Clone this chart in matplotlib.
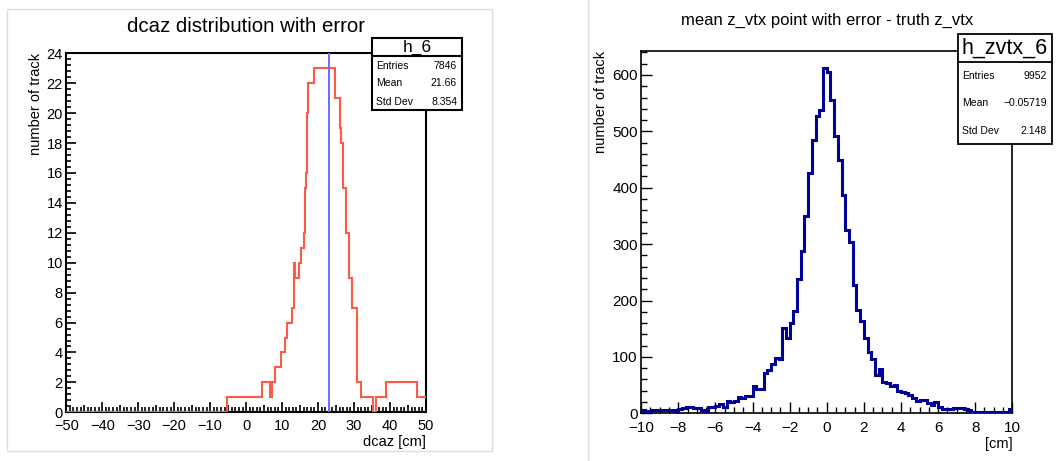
import matplotlib
matplotlib.use("Agg")
import matplotlib.pyplot as plt
import numpy as np
from matplotlib.ticker import MultipleLocator, FuncFormatter
from matplotlib.patches import Rectangle
from matplotlib.lines import Line2D

plt.rcParams['font.family'] = ['Liberation Sans', 'DejaVu Sans']

W, H = 1061, 461

# ---------------- data: left histogram (dcaz) ----------------
dcaz_edges = [-50.0, -5.2, 4.4, 6.6, 7.2, 8.1, 9.8, 10.9, 11.5, 12.7, 13.4, 13.6,
              14.7, 15.3, 16.0, 16.3, 16.6, 16.9, 17.1, 19.0, 24.8, 26.0, 26.4,
              27.0, 27.9, 28.6, 29.5, 30.8, 32.0, 35.4, 36.2, 38.8, 47.4, 50.0]
dcaz_counts = [0, 1, 2, 1, 2, 3, 4, 5, 6, 7, 10, 9, 10, 11, 12, 15, 16, 20, 22,
               23, 21, 19, 18, 15, 12, 9, 7, 2, 1, 0, 1, 2, 1]
dcaz_vline = 23.0
left_title = "dcaz distribution with error"
left_stats_name = "h_6"
left_stats_labels = ["Entries", "Mean", "Std Dev"]
left_stats_values = ["7846", "21.66", "8.354"]

# ---------------- data: right histogram (z_vtx diff) ----------------
zvtx_range = (-10.0, 10.0)
zvtx_nbins = 100
zvtx_counts = [5, 4, 4, 5, 5, 5, 5, 5, 5, 4,
               8, 9, 11, 12, 10, 9, 6, 3, 11, 11,
               13, 17, 11, 21, 20, 21, 29, 28, 31, 31,
               49, 43, 43, 71, 76, 88, 98, 97, 152, 134,
               160, 182, 238, 288, 349, 427, 484, 528, 537, 612,
               606, 556, 491, 449, 387, 325, 303, 227, 183, 164,
               133, 108, 97, 68, 78, 55, 53, 49, 50, 40,
               38, 36, 32, 27, 22, 23, 24, 18, 15, 20,
               11, 8, 8, 8, 10, 10, 9, 7, 5, 3,
               2, 3, 2, 2, 2, 2, 2, 2, 2, 7]
right_title = "mean z_vtx point with error - truth z_vtx"
right_stats_name = "h_zvtx_6"
right_stats_labels = ["Entries", "Mean", "Std Dev"]
right_stats_values = ["9952", "\u22120.05719", "2.148"]


def fx(px):
    return px / W


def fy(py):
    return 1 - py / H


fig = plt.figure(figsize=(W / 100, H / 100), dpi=100)
fig.patch.set_facecolor('white')

# pad decorations
fig.add_artist(Rectangle((fx(6.8), fy(450.7)), fx(492) - fx(6.8), fy(9.3) - fy(450.7),
                         transform=fig.transFigure, fill=False, edgecolor='#dcdcdc', lw=1.0))
fig.add_artist(Line2D([fx(588), fx(588)], [0, 1], transform=fig.transFigure,
                      color='#dcdcdc', lw=1.0))

# ---------------- left axes ----------------
L = dict(x0=66.3, x1=425.9, y0=53.3, y1=412.3)
axL = fig.add_axes([fx(L['x0']), fy(L['y1']), fx(L['x1']) - fx(L['x0']), fy(L['y0']) - fy(L['y1'])])
axL.stairs(dcaz_counts, dcaz_edges, baseline=None, color='#ff5a45', lw=1.5, zorder=3)
axL.axvline(dcaz_vline, color='#6b6bff', lw=1.4, zorder=4)
axL.set_xlim(-50, 50)
axL.set_ylim(0, 24)
for s in axL.spines.values():
    s.set_linewidth(1.5)
axL.xaxis.set_major_locator(MultipleLocator(5))
axL.xaxis.set_minor_locator(MultipleLocator(1))
axL.xaxis.set_major_formatter(FuncFormatter(
    lambda v, p: ('%d' % v).replace('-', '\u2212') if abs(v % 10) < 1e-6 else ''))
axL.yaxis.set_major_locator(MultipleLocator(2))
axL.yaxis.set_minor_locator(MultipleLocator(0.4))
axL.tick_params(which='both', direction='in', top=False, right=False, width=1.2)
axL.tick_params(which='major', length=7.5, labelsize=10.5, pad=2.5)
axL.tick_params(axis='x', which='major', pad=5)
axL.tick_params(which='minor', length=3.6)
axL.set_ylabel("number of track", fontsize=10.5)
axL.yaxis.set_label_coords((43 - L['x0']) / (L['x1'] - L['x0']), 1.0)
axL.yaxis.label.set_horizontalalignment('right')
fig.canvas.draw()
for t in axL.xaxis.get_major_ticks():
    v = t.get_loc()
    if abs(v % 10) > 1e-6:
        t.tick1line.set_markersize(5.2)
fig.text(fx(425.9), fy(442), "dcaz [cm]", ha='right', va='center', fontsize=10.5)
fig.text(fx(245.7), fy(26), left_title, ha='center', va='center', fontsize=14.7)

# left stats box
bx0, bx1, by0, by1, bh = 372.4, 461.9, 38.3, 110.0, 56.0
fig.add_artist(Rectangle((fx(bx0), fy(by1)), fx(bx1) - fx(bx0), fy(by0) - fy(by1),
                         transform=fig.transFigure, facecolor='white', edgecolor='black',
                         lw=1.5, zorder=10))
fig.add_artist(Line2D([fx(bx0), fx(bx1)], [fy(bh), fy(bh)], transform=fig.transFigure,
                      color='black', lw=1.5, zorder=11))
fig.text(fx((bx0 + bx1) / 2), fy(47), left_stats_name, ha='center', va='center',
         fontsize=12.5, zorder=12)
for lab, val, yy in zip(left_stats_labels, left_stats_values, [65.7, 83.3, 101.7]):
    fig.text(fx(376.5), fy(yy), lab, ha='left', va='center', fontsize=7.5, zorder=12)
    fig.text(fx(457), fy(yy), val, ha='right', va='center', fontsize=7.5, zorder=12)

# ---------------- right axes ----------------
R = dict(x0=641.2, x1=1012.3, y0=50.7, y1=413.3)
axR = fig.add_axes([fx(R['x0']), fy(R['y1']), fx(R['x1']) - fx(R['x0']), fy(R['y0']) - fy(R['y1'])])
zedges = np.linspace(zvtx_range[0], zvtx_range[1], zvtx_nbins + 1)
axR.stairs(zvtx_counts, zedges, baseline=None, color='#000099', lw=2.2, zorder=3)
axR.set_xlim(*zvtx_range)
axR.set_ylim(0, 643)
for s in axR.spines.values():
    s.set_linewidth(1.2)
axR.xaxis.set_major_locator(MultipleLocator(2))
axR.xaxis.set_minor_locator(MultipleLocator(0.5))
axR.xaxis.set_major_formatter(FuncFormatter(lambda v, p: ('%d' % round(v)).replace('-', '\u2212')))
axR.yaxis.set_major_locator(MultipleLocator(100))
axR.yaxis.set_minor_locator(MultipleLocator(20))
axR.tick_params(which='both', direction='in', top=False, right=False, width=1.0)
axR.tick_params(which='major', length=8, labelsize=11, pad=2.5)
axR.tick_params(axis='x', which='major', pad=5.5)
axR.tick_params(which='minor', length=4)
axR.set_ylabel("number of track", fontsize=10.5)
axR.yaxis.set_label_coords((608 - R['x0']) / (R['x1'] - R['x0']), 1.0)
axR.yaxis.label.set_horizontalalignment('right')
fig.text(fx(1012.3), fy(443.5), "[cm]", ha='right', va='center', fontsize=10.5)
fig.text(fx(827), fy(20.7), right_title, ha='center', va='center', fontsize=12)

# right stats box
bx0, bx1, by0, by1, bh = 957.6, 1052.0, 34.3, 144.0, 61.7
fig.add_artist(Rectangle((fx(bx0), fy(by1)), fx(bx1) - fx(bx0), fy(by0) - fy(by1),
                         transform=fig.transFigure, facecolor='white', edgecolor='black',
                         lw=1.3, zorder=10))
fig.add_artist(Line2D([fx(bx0), fx(bx1)], [fy(bh), fy(bh)], transform=fig.transFigure,
                      color='black', lw=1.3, zorder=11))
fig.text(fx((bx0 + bx1) / 2), fy(48.3), right_stats_name, ha='center', va='center',
         fontsize=15.5, zorder=12)
for lab, val, yy in zip(right_stats_labels, right_stats_values, [76, 103.3, 130.7]):
    fig.text(fx(962), fy(yy), lab, ha='left', va='center', fontsize=7.5, zorder=12)
    fig.text(fx(1047), fy(yy), val, ha='right', va='center', fontsize=7.5, zorder=12)

fig.savefig("out.png", dpi=100)
